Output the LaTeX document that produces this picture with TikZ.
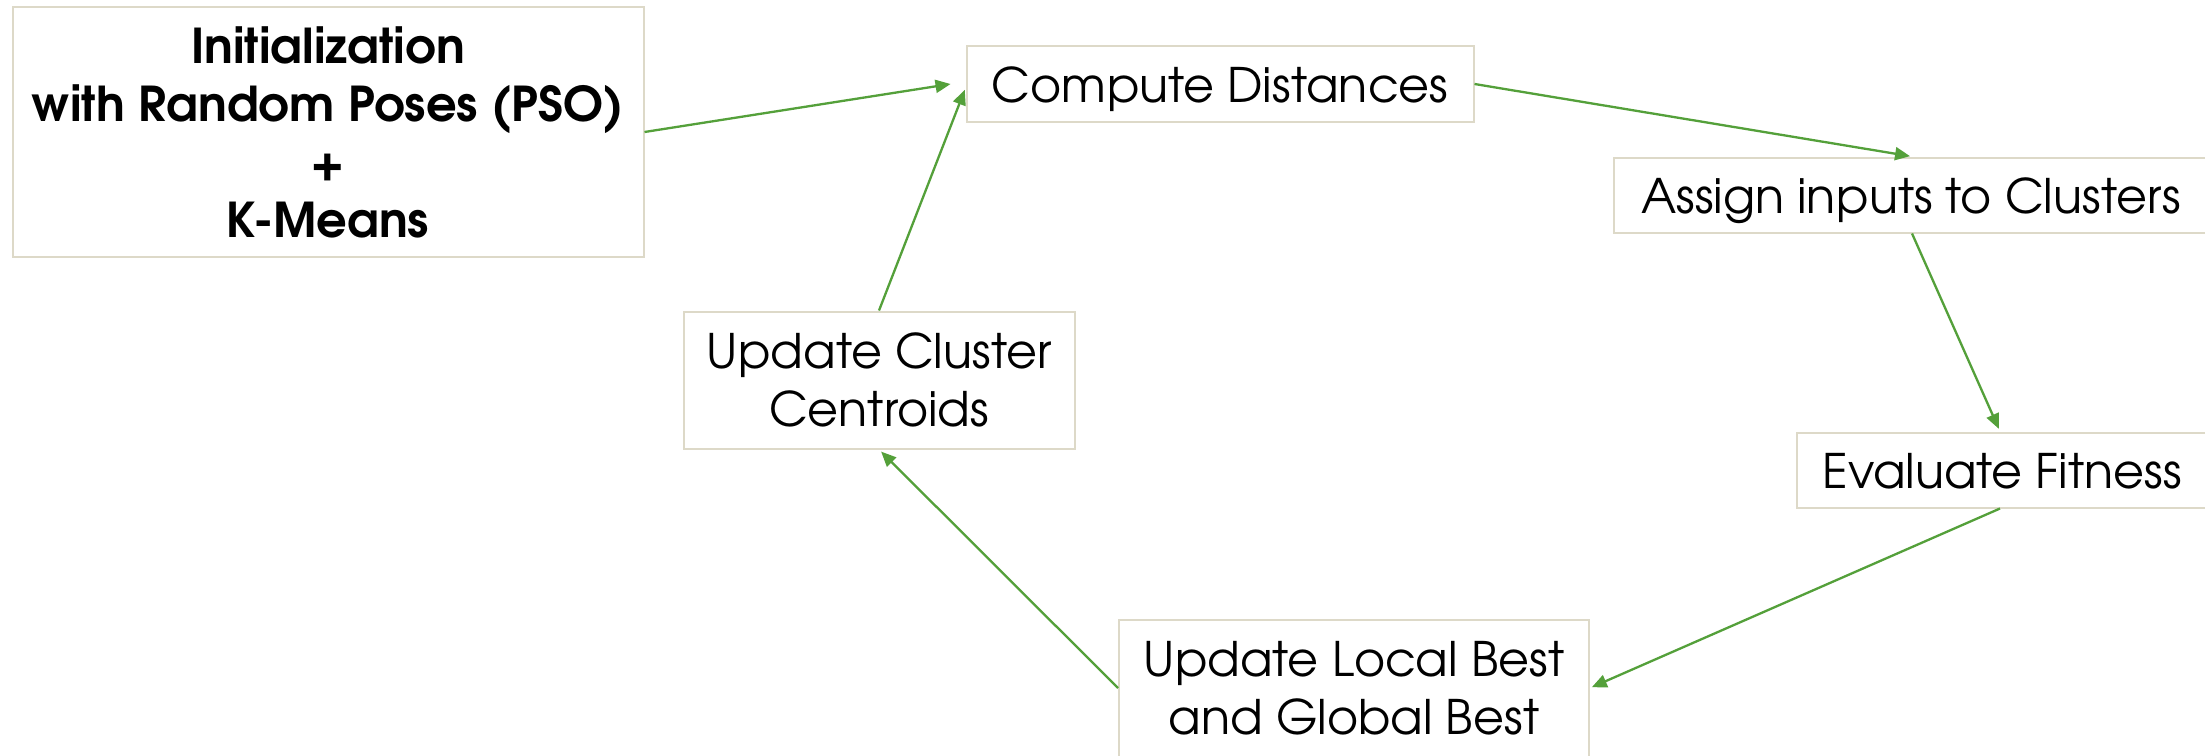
\documentclass[tikz,border=0pt]{standalone}
\usepackage{fontspec}
\setmainfont{TeX Gyre Adventor}
\usetikzlibrary{arrows.meta}
\definecolor{flow}{RGB}{84,160,58}
\definecolor{frame}{RGB}{221,217,200}
\begin{document}
\begin{tikzpicture}[x=1pt,y=-1pt,
  stepbox/.style={draw=frame, line width=2pt, fill=white, align=center,
    inner sep=0pt, font=\fontsize{47.6}{58}\selectfont},
  oneline/.style={text height=44pt, text depth=8pt},
  twoline/.style={text depth=-9pt},
  flowarrow/.style={draw=flow, line width=2.3pt,
    -{Triangle[length=15pt,width=13pt]}}]
\useasboundingbox[fill=white] (0,0) rectangle (2205,755);

% process boxes
\node[stepbox, minimum width=631pt, minimum height=250pt,
  font=\bfseries\fontsize{48}{58}\selectfont] (init) at (328,132)
  {Initialization\\with Random Poses (PSO)\\+\\K-Means};
\node[stepbox, oneline, minimum width=507pt, minimum height=76pt] (cd) at (1220,84) {Compute Distances};
\node[stepbox, oneline, minimum width=594pt, minimum height=75pt] (assign) at (1911,195) {Assign inputs to Clusters};
\node[stepbox, oneline, minimum width=411pt, minimum height=75pt] (eval) at (2002,470) {Evaluate Fitness};
\node[stepbox, twoline, minimum width=470pt, minimum height=137pt] (ulb) at (1354,688) {Update Local Best\\and Global Best};
\node[stepbox, twoline, minimum width=391pt, minimum height=137pt] (ucc) at (879,380) {Update Cluster\\Centroids};

% loop connectors
\draw[flowarrow] (init.east) -- ([xshift=-15pt]cd.west);
\draw[flowarrow, shorten >=2pt] (cd.east) -- ([xshift=1pt]assign.north);
\draw[flowarrow, shorten >=3pt] ([xshift=1pt]assign.south) -- ([xshift=-2pt]eval.north);
\draw[flowarrow, shorten >=2pt] ([xshift=-2pt]eval.south) -- (ulb.east);
\draw[flowarrow, shorten >=3pt] (ulb.west) -- (ucc.south);
\draw[flowarrow, shorten >=2pt] (ucc.north) -- ([yshift=-4pt]cd.west);
\end{tikzpicture}
\end{document}
